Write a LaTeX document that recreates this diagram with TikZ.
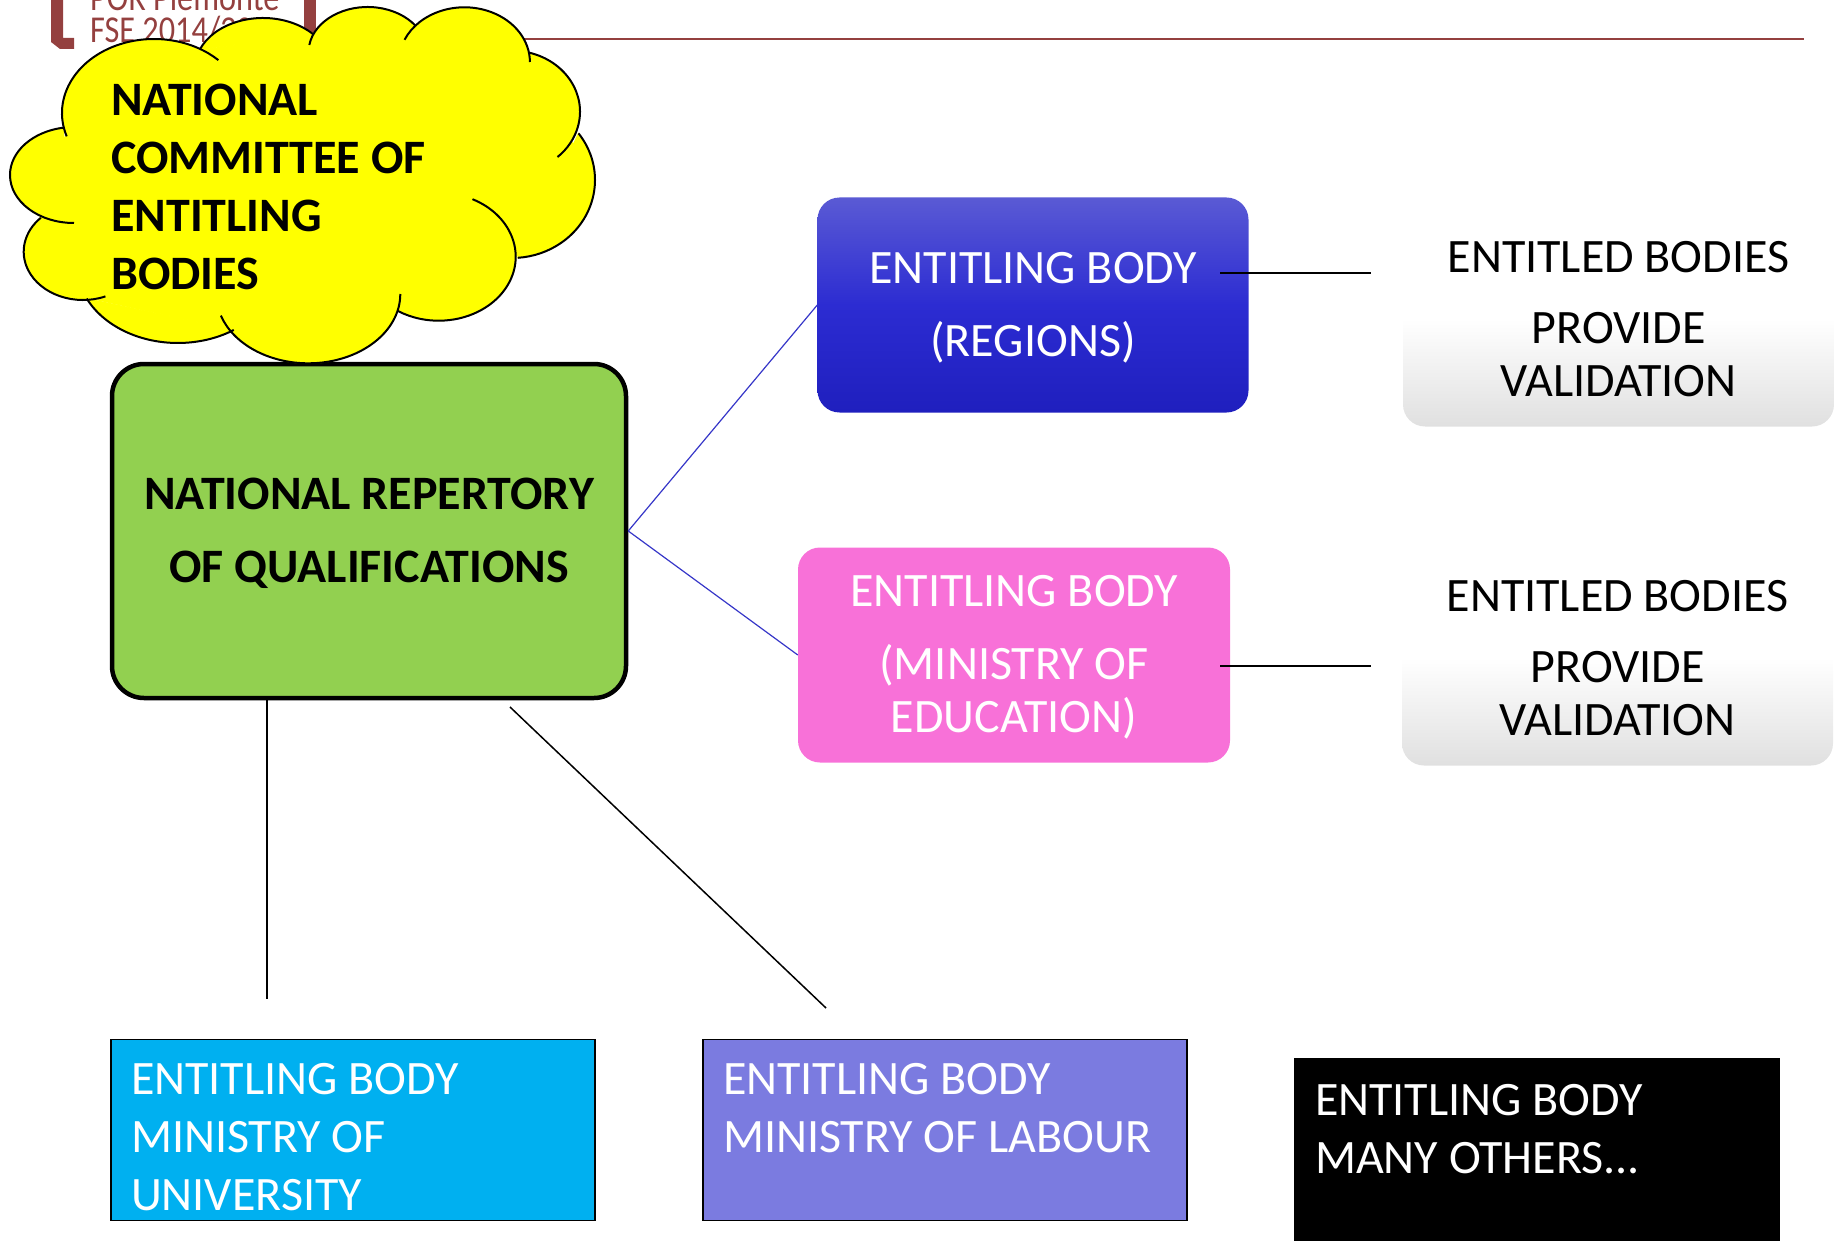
\documentclass[tikz,border=0pt]{standalone}
\usepackage{fontspec}
\setmainfont{Carlito}
\usepackage{tikz}
\definecolor{logored}{HTML}{94403F}
\definecolor{linkblue}{HTML}{3636C8}
\definecolor{repgreen}{HTML}{92D050}
\definecolor{regtop}{HTML}{5A5AD4}
\definecolor{regmid}{HTML}{2C2CD2}
\definecolor{regbot}{HTML}{1F1FBE}
\definecolor{edupink}{HTML}{F871D8}
\definecolor{unicyan}{HTML}{00B0F0}
\definecolor{labviolet}{HTML}{7B7BE0}
\definecolor{valgray}{HTML}{E0E0E0}
\definecolor{cloudyellow}{HTML}{FFFF00}
\newcommand{\cloudlobes}{154/113/92/74/161.6/314.4, 263/68/68/50/201.8/317.4, 367.6/52/59/45/189/324.5, 464.4/62/65.5/54.7/204/360, 512/111.7/68/61/284.5/408, 512/180/83/78/323.3/446, 438.7/256.7/77/64/-64/122, 308.3/294/92/69.3/0/161.8, 177.9/265/101/78/56.4/154.5, 83/251.7/59.3/48.3/67.8/224.7, 74/175/64/48/90/260}
\tikzset{
	bodytext/.style={font=\fontsize{48}{53}\selectfont},
	headtext/.style={font=\fontsize{48}{58}\selectfont\bfseries},
	logotext/.style={text=logored,inner sep=0pt,anchor=base west,transform shape,xscale=0.85,font=\fontsize{38}{38}\selectfont},
	roundbox/.style={rectangle,rounded corners=22pt,inner sep=0pt,align=center,bodytext,text=white},
	squarebox/.style={rectangle,inner sep=0pt,align=flush left,draw=black,line width=1.6pt,text=white,
		font=\fontsize{48}{58}\selectfont,minimum width=484pt,minimum height=181pt,text width=444pt},
	valbox/.style={roundbox,text=black,top color=white,bottom color=valgray,middle color=white,
		minimum width=431pt,minimum height=215pt}
}
\begin{document}
\begin{tikzpicture}[x=1pt,y=-1pt]
	\useasboundingbox (0,0) rectangle (1845,1241);

	\node[logotext] (por) at (90,11) {POR Piemonte};
	\node[logotext] (fse) at (90,43) {FSE 2014/20};
	\fill[logored] (51,-5) -- (63,-5) -- (63,38) -- (74,38) -- (74,49) -- (60,49) -- (51,42) -- cycle;
	\fill[logored] (304,-5) rectangle (316,40);
	\coordinate (ruleA) at (316,39);
	\coordinate (ruleB) at (1804,39);
	\draw[logored,line width=1.5pt] (ruleA) -- (ruleB);

	\begin{scope}[every node/.style={roundbox}]
		\node[fill=repgreen,draw=black,line width=4.5pt,text=black,font=\fontsize{48}{73}\selectfont\bfseries,minimum width=514pt,minimum height=334pt,rounded corners=32pt] (repertory) at (369,531) {\rule{0pt}{37pt}NATIONAL REPERTORY\\OF QUALIFICATIONS};
		\node[top color=regtop,bottom color=regbot,middle color=regmid,minimum width=431pt,minimum height=215pt] (regions) at (1033,305) {\rule{0pt}{37pt}ENTITLING BODY\\[20pt](REGIONS)};
		\node[fill=edupink,minimum width=432pt,minimum height=215pt] (education) at (1014,655) {\rule{0pt}{36pt}ENTITLING BODY\\[20pt](MINISTRY OF\\EDUCATION)};
		\node[valbox] (valA) at (1618.5,319) {ENTITLED BODIES\\[18pt]PROVIDE\\VALIDATION};
		\node[valbox] (valB) at (1617.5,658) {ENTITLED BODIES\\[18pt]PROVIDE\\VALIDATION};
	\end{scope}

	\begin{scope}[every node/.style={squarebox}]
		\node[fill=unicyan] (university) at (353,1130) {\rule{0pt}{46pt}ENTITLING BODY\\MINISTRY OF\\UNIVERSITY};
		\node[fill=labviolet] (labour) at (945,1130) {\rule{0pt}{45pt}ENTITLING BODY\\MINISTRY OF LABOUR\\~};
		\node[fill=black,minimum height=192pt] (others) at (1537,1155) {\rule{0pt}{37pt}ENTITLING BODY\\MANY OTHERS...\\~};
	\end{scope}

	\coordinate (regA) at (1220,273);
	\coordinate (regB) at (1371,273);
	\coordinate (eduA) at (1220,666);
	\coordinate (eduB) at (1371,666);
	\coordinate (uniA) at (267,698);
	\coordinate (uniB) at (267,999);
	\coordinate (labA) at (510,707);
	\coordinate (labB) at (826,1008);

	\begin{scope}[every path/.style={draw=linkblue,line width=1.2pt}]
		\path (repertory.east) -- (regions.west);
		\path (repertory.east) -- (education.west);
	\end{scope}

	\begin{scope}[every path/.style={draw=black,line width=1.5pt}]
		\path (regA) -- (regB);
		\path (eduA) -- (eduB);
		\path (uniA) -- (uniB);
		\path (labA) -- (labB);
	\end{scope}

	\filldraw[cloudyellow,line width=1pt] (65,137) -- (202,50) -- (314,33) -- (414,27) -- (530,53) -- (585,170) -- (530,250) -- (397,312) -- (234,330) -- (89,298) -- (40,217) -- cycle;
	\foreach \cx/\cy/\rx/\ry/\ta/\tb in \cloudlobes
		\filldraw[cloudyellow,line width=1pt] ({\cx+\rx*cos(\ta)},{\cy+\ry*sin(\ta)}) arc[start angle=\ta,end angle=\tb,x radius=\rx,y radius=\ry] -- cycle;
	\foreach \cx/\cy/\rx/\ry/\ta/\tb in \cloudlobes
		\draw[black,line width=2pt] ({\cx+\rx*cos(\ta)},{\cy+\ry*sin(\ta)}) arc[start angle=\ta,end angle=\tb,x radius=\rx,y radius=\ry];
	\node[headtext,inner sep=0pt,align=left,anchor=west] (committee) at (111,187) {NATIONAL\\COMMITTEE OF\\ENTITLING\\BODIES};
\end{tikzpicture}
\end{document}
